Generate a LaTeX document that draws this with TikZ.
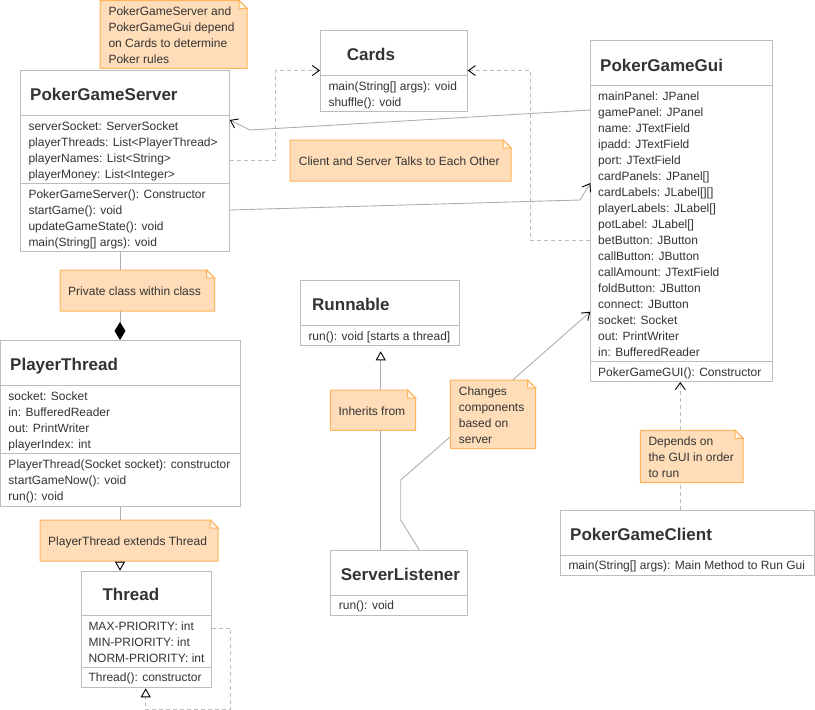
\documentclass[tikz,border=0pt]{standalone}
\usepackage{fontspec}
\setmainfont{Liberation Sans}
\usetikzlibrary{arrows.meta}
\definecolor{boxc}{HTML}{BDBDBD}
\definecolor{linec}{HTML}{AFAFAF}
\definecolor{txt}{HTML}{333333}
\definecolor{notef}{HTML}{FFDDB9}
\definecolor{noted}{HTML}{FFB45C}
\definecolor{foldf}{HTML}{FFF4E8}
\newcommand\myclass[5]{\node[cls, minimum width={(#4-(#2))*1pt}, minimum height={(#5-(#3))*1pt}] (#1) at (#2,#3) {};}
\newcommand\mysep[2]{\draw[sep] (#1.west |- 0,#2) -- (#1.east |- 0,#2);}
\newcommand\mynote[5]{%
  \node[notebg, minimum width={(#4-(#2))*1pt}, minimum height={(#5-(#3))*1pt}] (#1) at (#2,#3) {};
  \draw[notepath] (#1.north west) -- ([xshift=-8pt]#1.north east) -- ([yshift=-8pt]#1.north east) -- (#1.south east) -- (#1.south west) -- cycle;
  \draw[notepath, fill=foldf] ([xshift=-8pt]#1.north east) -- ([xshift=-8pt,yshift=-8pt]#1.north east) -- ([yshift=-8pt]#1.north east) -- cycle;}
\begin{document}
\begin{tikzpicture}[x=1pt,y=-1pt,
  cls/.style={draw=boxc, fill=white, line width=1pt, inner sep=0, anchor=north west},
  sep/.style={draw=boxc, line width=1pt},
  ttl/.style={font=\fontsize{17}{20}\selectfont\bfseries, text=txt, inner sep=0, anchor=base west},
  mem/.style={font=\fontsize{12}{14}\selectfont, text=txt, inner sep=0, anchor=base west},
  notebg/.style={inner sep=0, anchor=north west},
  notepath/.style={draw=noted, fill=notef, line width=1pt},
  solidc/.style={draw=linec, line width=0.9pt},
  dashc/.style={draw=boxc, line width=0.9pt, dash pattern=on 4pt off 3pt},
  openv/.style={-{Straight Barb[length=7pt,width=10pt,color=black]}},
  opentri/.style={-{Triangle[open,length=9pt,width=10pt,color=black,fill=white]}},
  fdiam/.style={-{Diamond[length=18pt,width=11pt,color=black]}}
]
\useasboundingbox (0,0) rectangle (815,710);

% ---------- classes ----------
\myclass{srv}{20}{70.3}{228.7}{251}
\mysep{srv}{115.7}\mysep{srv}{183.3}
\node[ttl] (srvT) at (30,100.5) {PokerGameServer};
\node[mem] (srvA1) at (28.3,130.4) {serverSocket: ServerSocket};
\node[mem] (srvA2) at (28.3,146.4) {playerThreads: List<PlayerThread>};
\node[mem] (srvA3) at (28.3,162.4) {playerNames: List<String>};
\node[mem] (srvA4) at (28.3,178.4) {playerMoney: List<Integer>};
\node[mem] (srvM1) at (28.3,198.4) {PokerGameServer(): Constructor};
\node[mem] (srvM2) at (28.3,214.4) {startGame(): void};
\node[mem] (srvM3) at (28.3,230.4) {updateGameState(): void};
\node[mem] (srvM4) at (28.3,246.4) {main(String[] args): void};

\myclass{cards}{320}{30}{466.7}{111.3}
\mysep{cards}{75.3}
\node[ttl] (cardsT) at (346.7,60) {Cards};
\node[mem] (cardsM1) at (328.3,90) {main(String[] args): void};
\node[mem] (cardsM2) at (328.3,106) {shuffle(): void};

\myclass{gui}{590.3}{40.3}{771.7}{381}
\mysep{gui}{85.3}\mysep{gui}{361.7}
\node[ttl] (guiT) at (600,71) {PokerGameGui};
\foreach \t [count=\i from 0] in {mainPanel: JPanel, gamePanel: JPanel, name: JTextField, ipadd: JTextField, port: JTextField, cardPanels: JPanel[], cardLabels: JLabel[][], playerLabels: JLabel[], potLabel: JLabel[], betButton: JButton, callButton: JButton, callAmount: JTextField, foldButton: JButton, connect: JButton, socket: Socket, out: PrintWriter, in: BufferedReader}
  \node[mem] (guiA\i) at (598,{100+16*\i}) {\t};
\node[mem] (guiM1) at (598,376) {PokerGameGUI(): Constructor};

\myclass{pt}{0}{340}{240.3}{505.7}
\mysep{pt}{385.7}\mysep{pt}{453.3}
\node[ttl] (ptT) at (10,370.7) {PlayerThread};
\node[mem] (ptA1) at (8.3,400) {socket: Socket};
\node[mem] (ptA2) at (8.3,416) {in: BufferedReader};
\node[mem] (ptA3) at (8.3,432) {out: PrintWriter};
\node[mem] (ptA4) at (8.3,448) {playerIndex: int};
\node[mem] (ptM1) at (8.3,468) {PlayerThread(Socket socket): constructor};
\node[mem] (ptM2) at (8.3,484) {startGameNow(): void};
\node[mem] (ptM3) at (8.3,500) {run(): void};

\myclass{thr}{80.7}{570.7}{210.7}{687.3}
\mysep{thr}{615.7}\mysep{thr}{667.3}
\node[ttl] (thrT) at (102.3,600) {Thread};
\node[mem] (thrA1) at (88.3,630) {MAX-PRIORITY: int};
\node[mem] (thrA2) at (88.3,646) {MIN-PRIORITY: int};
\node[mem] (thrA3) at (88.3,662) {NORM-PRIORITY: int};
\node[mem] (thrM1) at (88.3,681.7) {Thread(): constructor};

\myclass{run}{300.3}{280.3}{458.7}{345.3}
\mysep{run}{325.3}
\node[ttl] (runT) at (312,310) {Runnable};
\node[mem] (runM1) at (308.3,340) {run(): void [starts a thread]};

\myclass{sl}{330.3}{550}{467.3}{615}
\mysep{sl}{595.7}
\node[ttl] (slT) at (340.7,580.7) {ServerListener};
\node[mem] (slM1) at (338.7,609.4) {run(): void};

\myclass{cl}{560.3}{510.3}{814.3}{575}
\mysep{cl}{555.3}
\node[ttl] (clT) at (570,540.7) {PokerGameClient};
\node[mem] (clM1) at (568.3,569.4) {main(String[] args): Main Method to Run Gui};

% ---------- notes ----------
\mynote{n1}{100}{0.5}{246.7}{68}
\node[mem] (n1a) at (108.3,15) {PokerGameServer and};
\node[mem] (n1b) at (108.3,31) {PokerGameGui depend};
\node[mem] (n1c) at (108.3,47) {on Cards to determine};
\node[mem] (n1d) at (108.3,63) {Poker rules};

\mynote{ncs}{290}{140}{510.7}{180.7}
\node[mem] (ncsa) at (298.7,165) {Client and Server Talks to Each Other};

\mynote{npriv}{60}{270}{214.3}{310.7}
\node[mem] (nprivA) at (68,295) {Private class within class};

\mynote{next}{40}{520}{217.7}{560.7}
\node[mem] (nextA) at (48,545) {PlayerThread extends Thread};

\mynote{ninh}{330.3}{390}{415.3}{430}
\node[mem] (ninhA) at (338.3,415) {Inherits from};

\mynote{nchg}{450.3}{380}{535.3}{448.3}
\node[mem] (nchgA) at (458.7,395) {Changes};
\node[mem] (nchgB) at (458.7,411) {components};
\node[mem] (nchgC) at (458.7,427) {based on};
\node[mem] (nchgD) at (458.7,443) {server};

\mynote{ndep}{640.3}{430.3}{742.7}{482.3}
\node[mem] (ndepA) at (648.3,445) {Depends on};
\node[mem] (ndepB) at (648.3,461) {the GUI in order};
\node[mem] (ndepC) at (648.3,477) {to run};

% ---------- connectors ----------
% Server -> Cards (dependency)
\draw[dashc, openv] (srv.east |- 0,160) -- (275.5,160) -- (275.5,70.5) -- (cards.west |- 0,70.5);
% Gui -> Cards (dependency)
\draw[dashc, openv] (gui.west |- 0,240) -- (530,240) -- (530,70.5) -- (cards.east |- 0,70.5);
% Gui -> Server
\draw[solidc, openv] (gui.west |- 0,110) -- (250,130) -- (srv.east |- 0,120);
% Server -> Gui
\draw[solidc, openv] (srv.east |- 0,210) -- (580,200) -- (gui.west |- 0,183);
% Server -- PlayerThread (composition)
\draw[solidc] (srv.south -| 120,0) -- (npriv.north -| 120,0);
\draw[solidc, fdiam] (npriv.south -| 120,0) -- (pt.north -| 120,0);
% PlayerThread -> Thread (generalization)
\draw[solidc] (pt.south -| 120,0) -- (next.north -| 120,0);
\draw[solidc, opentri] (next.south -| 120,0) -- (thr.north -| 120,0);
% Thread self dependency
\draw[dashc, opentri] (thr.east |- 0,628) -- (230.7,628) -- (230.7,709.3) -- (145.7,709.3) -- (thr.south -| 145.7,0);
% ServerListener -> Runnable
\draw[solidc] (sl.north -| 380.7,0) -- (ninh.south -| 380.7,0);
\draw[solidc, opentri, shorten >=5pt] (ninh.north -| 380.7,0) -- (run.south -| 380.7,0);
% ServerListener -> Gui via note
\draw[solidc] (sl.north -| 419.3,0) -- (400.7,520) -- (400.7,480) -- (nchg.west |- 0,436.7);
\draw[solidc, openv] (nchg.north -| 512.7,0) -- (gui.west |- 0,311.7);
% Client -> Gui (dependency)
\draw[dashc] (cl.north -| 680.3,0) -- (ndep.south -| 680.3,0);
\draw[dashc, openv] (ndep.north -| 680.3,0) -- (gui.south -| 680.3,0);
\end{tikzpicture}
\end{document}
